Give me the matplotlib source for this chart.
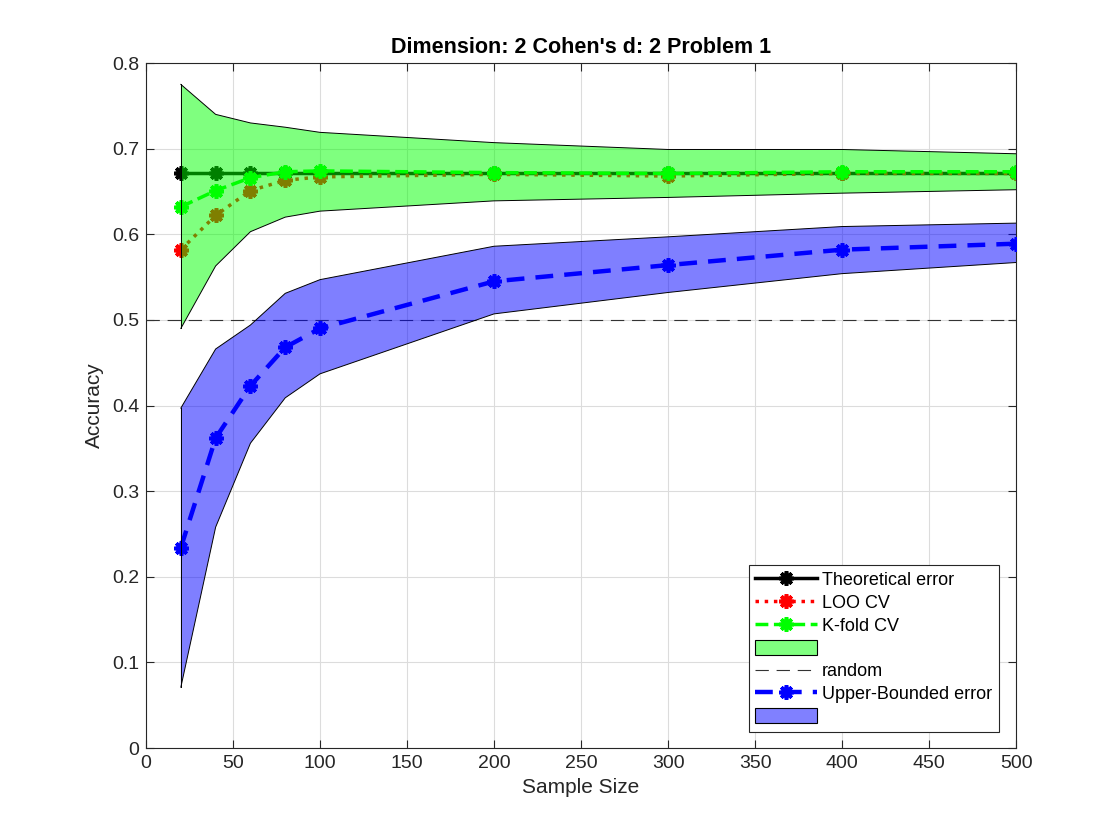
import matplotlib
matplotlib.use("Agg")
import matplotlib.pyplot as plt
from matplotlib.patches import Patch

plt.rcParams['font.family'] = ['Liberation Sans', 'DejaVu Sans']

n = [20, 40, 60, 80, 100, 200, 300, 400, 500]
theo = [0.671, 0.671, 0.671, 0.671, 0.671, 0.671, 0.671, 0.671, 0.671]
loo = [0.582, 0.622, 0.651, 0.663, 0.667, 0.670, 0.668, 0.671, 0.671]
kfold = [0.632, 0.651, 0.666, 0.673, 0.674, 0.672, 0.671, 0.673, 0.673]
green_upper = [0.775, 0.740, 0.730, 0.725, 0.719, 0.707, 0.699, 0.699, 0.694]
green_lower = [0.490, 0.563, 0.603, 0.620, 0.627, 0.639, 0.643, 0.648, 0.652]
ub = [0.234, 0.362, 0.423, 0.468, 0.490, 0.545, 0.564, 0.582, 0.589]
blue_upper = [0.397, 0.466, 0.494, 0.531, 0.547, 0.586, 0.597, 0.609, 0.613]
blue_lower = [0.071, 0.258, 0.356, 0.409, 0.437, 0.507, 0.532, 0.554, 0.567]
random_x = [0, 500]
random_y = [0.5, 0.5]

xticks = [0, 50, 100, 150, 200, 250, 300, 350, 400, 450, 500]
yticks = [0, 0.1, 0.2, 0.3, 0.4, 0.5, 0.6, 0.7, 0.8]

fig = plt.figure(figsize=(11.2, 8.4), dpi=100)
ax = fig.add_axes([0.1304, 0.1095, 0.7768, 0.8155])

axc = '#262626'
mk = (8, 2, 0)
mkw = dict(marker=mk, ms=10.5, mew=2.6)
l1, = ax.plot(n, theo, '-', color='black', lw=2.5, zorder=2, label='Theoretical error', **mkw)
l2, = ax.plot(n, loo, ':', color='red', lw=2.5, zorder=2.1, label='LOO CV', **mkw)
l3, = ax.plot(n, kfold, '--', color=(0, 1, 0), lw=2.5, zorder=2.2, label='K-fold CV', **mkw)
f1 = ax.fill_between(n, green_lower, green_upper, facecolor=(0, 1, 0), alpha=0.5,
                     edgecolor='none', zorder=3)
ax.plot(n, green_upper, color='black', lw=0.7, zorder=3.1)
ax.plot(n, green_lower, color='black', lw=0.7, zorder=3.1)
ax.plot([n[0], n[0]], [green_lower[0], green_upper[0]], color='black', lw=0.7, zorder=3.1)
ax.plot([n[-1], n[-1]], [green_lower[-1], green_upper[-1]], color='black', lw=0.7, zorder=3.1)
l4, = ax.plot(random_x, random_y, color='#333333', lw=0.8, dashes=(12, 7), zorder=4,
              label='random')
l5, = ax.plot(n, ub, '--', color='blue', lw=3.2, zorder=5,
              dashes=(4, 2.5), label='Upper-Bounded error', **mkw)
f2 = ax.fill_between(n, blue_lower, blue_upper, facecolor=(0, 0, 1), alpha=0.5,
                     edgecolor='none', zorder=6)
ax.plot(n, blue_upper, color='black', lw=0.7, zorder=6.1)
ax.plot(n, blue_lower, color='black', lw=0.7, zorder=6.1)
ax.plot([n[0], n[0]], [blue_lower[0], blue_upper[0]], color='black', lw=0.7, zorder=6.1)
ax.plot([n[-1], n[-1]], [blue_lower[-1], blue_upper[-1]], color='black', lw=0.7, zorder=6.1)

p1 = Patch(facecolor='#80ff80', edgecolor='black', lw=0.8, label=' ')
p2 = Patch(facecolor='#8080ff', edgecolor='black', lw=0.8, label=' ')

ax.set_xlim(0, 500)
ax.set_ylim(0, 0.8)
ax.set_xticks(xticks)
ax.set_yticks(yticks)
ax.set_yticklabels(['0', '0.1', '0.2', '0.3', '0.4', '0.5', '0.6', '0.7', '0.8'])
ax.grid(True, color='#dcdcdc', lw=0.8, zorder=0)
ax.set_axisbelow(True)
ax.tick_params(direction='in', top=True, right=True, length=6, width=0.8,
               colors=axc, labelsize=14, pad=5)
for s in ax.spines.values():
    s.set_color(axc)
    s.set_linewidth(0.8)

ax.set_xlabel('Sample Size', fontsize=15, color=axc, labelpad=4)
ax.set_ylabel('Accuracy', fontsize=15, color=axc, labelpad=6)
ax.set_title("Dimension: 2 Cohen's d: 2 Problem 1", fontsize=15.5, fontweight='bold',
             color='black', pad=7)

leg = ax.legend(handles=[l1, l2, l3, p1, l4, l5, p2],
                loc='lower right', bbox_to_anchor=(0.98, 0.023), borderaxespad=0,
                fontsize=13, frameon=True, fancybox=False, framealpha=1,
                edgecolor='#262626', handlelength=3.4, handleheight=0.9,
                labelspacing=0.28, borderpad=0.35, handletextpad=0.3)
leg.get_frame().set_linewidth(0.8)
leg.set_zorder(10)

fig.savefig('out.png', dpi=100)
